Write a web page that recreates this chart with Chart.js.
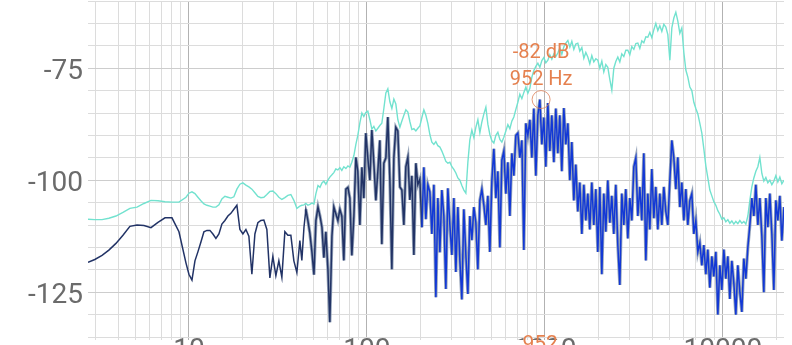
<!DOCTYPE html>
<html>
<head>
<meta charset="utf-8">
<script src="https://cdn.jsdelivr.net/npm/chart.js@4.4.1/dist/chart.umd.min.js"></script>
<style>
  html, body { margin: 0; padding: 0; background: #fff; overflow: hidden; }
  #wrap { width: 792px; height: 380px; }
</style>
</head>
<body>
<div id="wrap"><canvas id="spectrum" width="792" height="380"></canvas></div>
<script>
// frequency bins (Hz)
const freqs = [
  2.71, 2.96, 3.25, 3.55, 3.89, 4.26, 4.66, 5.11, 5.59, 6.12, 6.70, 7.34, 8.03, 8.79, 9.63,
  10.0, 10.4, 10.81, 11.23, 11.68, 12.14, 12.62, 13.12, 13.64, 14.18, 14.74, 15.32, 15.93, 16.56, 17.21,
  17.89, 18.6, 19.34, 20.1, 20.9, 21.72, 22.58, 23.48, 24.4, 25.37, 26.37, 27.41, 28.5, 29.62, 30.8,
  32.01, 33.28, 34.6, 35.97, 37.39, 38.87, 40.41, 42.01,
  43.1, 44.3, 45.4, 46.6, 47.8, 49.1, 50.4, 51.7, 53.1, 54.5,
  55.9, 57.3, 58.8, 60.4, 61.9, 63.6, 65.2, 66.9, 68.7, 70.5,
  72.3, 74.2, 76.2, 78.2, 80.2, 82.3, 84.5, 86.7, 88.9, 91.3,
  93.7, 96.1, 98.6, 101.2, 103.9, 106.6, 109.4, 112.3, 115.2, 118.2,
  121.3, 124.5, 127.8, 131.1, 134.6, 138.1, 141.7, 145.4, 149.2, 153.2,
  157.2, 161.3, 165.5, 169.9, 174.3, 178.9, 183.6, 188.4, 193.3, 198.4,
  203.6, 208.9, 214.4, 220.0, 225.8, 231.7, 237.8, 244.0, 250.4, 257.0,
  263.7, 270.6, 277.7, 285.0, 292.5, 300.1, 308.0, 316.1, 324.4, 332.9,
  341.6, 350.5, 359.7, 369.2, 378.8,
  388.8, 399.0, 409.4, 420.2, 431.2, 442.5, 454.1, 466.0, 478.2, 490.7,
  503.6, 516.8, 530.3, 544.2, 558.5, 573.1, 588.1, 603.5, 619.3, 635.6,
  652.2, 669.3, 686.9, 704.9, 723.3, 742.3, 761.8, 781.7, 802.2, 823.2,
  844.8, 866.9, 889.7, 913.0, 936.9, 961.4, 986.6, 1012, 1039, 1066,
  1094, 1123, 1152, 1182, 1213, 1245, 1278, 1311, 1346, 1381,
  1417, 1454, 1492, 1531, 1571, 1613, 1655, 1698, 1743, 1788,
  1835, 1883, 1933, 1983, 2035, 2089, 2143, 2199, 2257, 2316,
  2377, 2439, 2503, 2569, 2636, 2705, 2776, 2849, 2924, 3000,
  3079, 3160, 3243, 3328, 3415, 3504, 3596, 3691, 3787, 3887,
  3989, 4093, 4200, 4310, 4423, 4539, 4659, 4781, 4906, 5035,
  5167, 5302, 5441, 5584, 5730, 5880, 6035, 6193, 6355, 6522,
  6693, 6868, 7048, 7233, 7423,
  7617, 7817, 8022, 8232, 8448, 8670, 8897, 9130, 9369, 9615,
  9867, 10126, 10391, 10664, 10943, 11230, 11525, 11827, 12137, 12455,
  12782, 13117, 13461, 13814, 14176, 14548, 14929, 15320, 15722, 16134,
  16557, 16991, 17437, 17894, 18363, 18844, 19338, 19845, 20365, 20899,
  21447, 22050
];

// peak hold trace (dB)
const peakDb = [
  -108.7, -108.8, -108.8, -108.5, -108.0, -107.2, -106.3, -106.0, -105.2, -104.5, -104.6, -104.8, -104.9, -104.9, -103.8,
  -102.9, -102.6, -103.0, -103.8, -104.6, -105.3, -105.6, -105.8, -106.0, -106.0, -105.5, -104.2, -103.6, -103.8, -104.0,
  -103.7, -102.0, -100.9, -100.6, -101.1, -101.5, -102.0, -102.8, -103.6, -103.9, -103.8, -103.2, -102.5, -102.4, -103.0,
  -103.8, -104.3, -103.9, -103.4, -103.2, -104.5, -106.3, -105.8,
  -105.6, -105.5, -105.2, -105.6, -105.4, -105.1, -105.3, -103.0, -101.2, -101.6,
  -100.6, -100.2, -100.9, -100.0, -99.3, -98.8, -98.3, -97.5, -97.7, -97.2,
  -97.8, -97.0, -97.4, -96.8, -97.1, -96.0, -94.5, -92.0, -90.0, -87.2,
  -85.0, -85.8, -84.9, -84.6, -86.5, -88.6, -88.0, -89.0, -88.4, -87.8,
  -87.3, -84.0, -80.5, -79.6, -82.5, -84.0, -81.9, -83.0, -86.5, -88.2,
  -86.8, -85.5, -84.3, -84.8, -86.9, -88.7, -88.5, -89.0, -88.4, -87.9,
  -86.0, -84.3, -85.5, -87.3, -89.8, -91.5, -92.0, -91.4, -92.3, -92.6,
  -93.5, -94.6, -95.8, -96.2, -96.0, -97.0, -97.6, -98.4, -99.5, -100.0,
  -101.2, -102.2, -102.9, -96.0, -91.0,
  -88.8, -90.5, -88.2, -86.5, -89.4, -87.0, -85.2, -83.7, -87.5, -89.8,
  -91.2, -91.7, -90.0, -89.3, -90.9, -91.5, -90.4, -89.0, -87.6, -88.5,
  -86.8, -85.9, -84.2, -82.6, -80.8, -81.8, -80.4, -79.2, -80.6, -79.5,
  -77.0, -75.5, -74.6, -73.9, -74.8, -73.3, -72.6, -73.8, -73.2, -72.0,
  -73.0, -71.8, -72.4, -71.6, -70.5, -71.9, -70.2, -69.4, -68.8, -70.3,
  -69.0, -70.8, -69.6, -69.4, -71.2, -70.4, -72.8, -71.5, -72.5, -74.0,
  -72.2, -73.6, -72.9, -73.2, -75.0, -73.4, -75.8, -74.2, -74.8, -77.5,
  -79.9, -75.0, -73.5, -72.5, -73.6, -71.8, -72.4, -71.0, -71.0, -72.0,
  -70.2, -70.8, -69.5, -69.4, -70.6, -68.9, -69.3, -68.0, -68.1, -67.0,
  -68.2, -66.4, -65.0, -66.6, -65.5, -66.8, -65.2, -65.8, -67.5, -73.2,
  -66.0, -63.8, -62.5, -64.5, -67.2, -66.0, -71.5, -75.4, -77.0, -79.2,
  -80.0, -82.6, -84.0, -85.2, -87.3,
  -89.5, -93.0, -96.8, -99.5, -102.2, -103.5, -104.8, -105.6, -106.8, -107.6,
  -108.7, -108.4, -109.3, -108.8, -109.6, -109.1, -109.8, -109.2, -109.7, -109.0,
  -109.6, -109.2, -109.8, -108.0, -104.5, -101.5, -99.5, -98.0, -97.0, -94.9,
  -98.5, -100.2, -99.4, -100.6, -100.0, -101.0, -100.2, -99.0, -100.4, -99.3,
  -100.8, -100.0
];

// live spectrum (dB)
const liveDb = [
  -118.3, -117.7, -116.8, -115.6, -114.1, -112.3, -110.3, -110.0, -110.1, -110.6, -109.4, -108.4, -108.4, -111.5, -118.5,
  -121.0, -122.3, -118.0, -116.0, -113.8, -111.5, -111.2, -111.2, -112.0, -113.0, -112.0, -109.8, -109.0, -108.0, -107.4,
  -106.5, -105.6, -111.0, -112.0, -111.0, -112.5, -121.0, -112.0, -109.5, -109.0, -108.9, -111.0, -121.8, -117.0, -121.3,
  -118.0, -121.7, -111.5, -112.3, -112.3, -118.0, -120.6, -113.5,
  -117.9, -110.5, -106.5, -109.0, -111.8, -116.0, -121.1, -109.0, -106.0, -108.0,
  -110.5, -117.3, -111.5, -120.0, -131.7, -112.5, -106.0, -107.5, -109.0, -106.5,
  -108.0, -117.9, -102.0, -101.6, -104.0, -116.8, -108.0, -94.9, -98.0, -110.0,
  -97.1, -104.0, -89.5, -95.0, -100.0, -88.8, -96.2, -104.5, -98.0, -91.1,
  -114.3, -96.2, -95.0, -85.9, -100.0, -119.9, -95.0, -88.2, -89.0, -101.5,
  -102.2, -110.0, -97.0, -94.9, -104.4, -99.0, -116.7, -96.2, -101.0, -99.8,
  -110.5, -97.1, -108.7, -101.0, -102.6, -112.0, -101.0, -126.1, -104.0, -116.1,
  -102.2, -108.0, -124.3, -101.8, -110.0, -116.7, -104.0, -120.5, -106.0, -118.0,
  -126.6, -106.5, -116.7, -125.4, -108.0,
  -113.4, -106.0, -109.5, -119.9, -104.5, -102.0, -105.6, -110.0, -103.5, -116.0,
  -100.0, -93.0, -104.0, -98.0, -115.0, -95.5, -93.5, -103.0, -96.0, -108.0,
  -94.0, -99.0, -90.0, -89.5, -95.0, -91.1, -115.6, -87.3, -90.0, -86.5,
  -95.0, -84.0, -99.0, -85.5, -82.0, -92.0, -86.0, -97.0, -82.8, -93.5,
  -85.5, -96.0, -84.0, -94.0, -85.5, -98.0, -83.9, -92.0, -87.3, -100.0,
  -91.5, -104.5, -96.5, -107.0, -100.5, -112.0, -101.0, -109.0, -103.0, -111.0,
  -100.5, -110.0, -102.0, -116.0, -101.5, -121.0, -103.0, -111.5, -100.0, -109.5,
  -103.5, -112.0, -101.0, -114.5, -123.4, -103.0, -110.0, -102.0, -113.0, -104.0,
  -109.0, -97.0, -95.0, -108.0, -101.5, -109.0, -94.0, -117.9, -103.0, -111.0,
  -97.5, -108.5, -101.5, -111.0, -103.0, -110.0, -101.5, -107.0, -110.0, -100.0,
  -91.1, -95.0, -102.0, -94.9, -106.0, -100.5, -109.0, -102.0, -110.0, -104.5,
  -103.0, -112.0, -109.0, -116.0, -114.0,
  -119.0, -114.5, -121.0, -115.5, -124.0, -117.0, -121.5, -116.0, -130.0, -119.0,
  -124.5, -115.5, -122.0, -117.0, -126.5, -118.0, -123.0, -130.0, -119.0, -125.0,
  -129.4, -117.5, -122.0, -115.0, -110.0, -104.0, -108.0, -101.0, -110.0, -104.0,
  -112.5, -125.0, -104.0, -110.5, -103.0, -112.0, -124.5, -104.5, -109.0, -103.5,
  -113.5, -106.0
];

const freqTicks = [3, 4, 5, 6, 7, 8, 9,
  10, 20, 30, 40, 50, 60, 70, 80, 90,
  100, 200, 300, 400, 500, 600, 700, 800, 900,
  1000, 2000, 3000, 4000, 5000, 6000, 7000, 8000, 9000,
  10000, 20000];
const decades = [10, 100, 1000, 10000];
const freqLabels = { 10: '10', 100: '100', 1000: '1000', 10000: '10000' };
const dbLabels = [-75, -100, -125];
const marker = { freq: 952, db: -82 };

const ORANGE = '#e5814f';

const markerPlugin = {
  id: 'peakMarker',
  afterDraw(chart) {
    const { ctx, chartArea, scales } = chart;
    const px = scales.x.getPixelForValue(marker.freq);
    const py = scales.y.getPixelForValue(marker.db);
    ctx.save();
    ctx.strokeStyle = 'rgba(222,130,90,0.8)';
    ctx.lineWidth = 1;
    ctx.beginPath();
    ctx.arc(px, py, 9, 0, Math.PI * 2);
    ctx.stroke();
    ctx.font = '20px Roboto';
    ctx.textAlign = 'center';
    ctx.textBaseline = 'middle';
    ctx.fillStyle = ORANGE;
    ctx.fillText(marker.db + ' dB', px, py - 47);
    ctx.fillText(marker.freq + ' Hz', px, py - 20);
    // frequency label on the axis, over the 1000 tick label
    ctx.fillStyle = '#fff';
    ctx.fillRect(px - 32, chartArea.bottom + 3, 50, 40);
    ctx.fillStyle = ORANGE;
    ctx.font = '21px Roboto';
    ctx.fillText(String(marker.freq), px - 1, chartArea.bottom + 8);
    ctx.restore();
  }
};

const ctx = document.getElementById('spectrum').getContext('2d');
new Chart(ctx, {
  type: 'line',
  data: {
    datasets: [
      {
        label: 'live',
        data: freqs.map((f, i) => ({ x: f, y: liveDb[i] })),
        borderWidth: 1.5,
        segment: {
          borderColor: c => (c.p0.parsed.x < 200 ? '#223366' : '#1238d6')
        },
        pointRadius: 0,
        order: 0
      },
      {
        label: 'liveShade',
        data: freqs.map((f, i) => ({ x: f, y: liveDb[i] })),
        borderWidth: 3.2,
        segment: {
          borderColor: c => (c.p0.parsed.x < 45 ? 'rgba(0,0,0,0)' : 'rgba(140,155,178,0.9)')
        },
        pointRadius: 0,
        order: 1
      },
      {
        label: 'peak',
        data: freqs.map((f, i) => ({ x: f, y: peakDb[i] })),
        borderColor: '#72e2cf',
        borderWidth: 1.4,
        pointRadius: 0,
        order: 2
      }
    ]
  },
  options: {
    responsive: false,
    animation: false,
    layout: { padding: { top: 1, right: 8, left: 0, bottom: 0 } },
    plugins: { legend: { display: false }, tooltip: { enabled: false } },
    scales: {
      x: {
        type: 'logarithmic',
        min: 2.71,
        max: 22050,
        afterBuildTicks: s => { s.ticks = freqTicks.map(v => ({ value: v })); },
        afterFit: s => { s.height = 43; s.paddingLeft = 0; s.paddingRight = 0; },
        border: { display: false },
        grid: {
          color: c => (c.tick && decades.includes(c.tick.value) ? '#b2b2b2' : '#dcdcdc'),
          tickLength: 3
        },
        ticks: {
          autoSkip: false,
          maxRotation: 0,
          padding: -6,
          color: '#6b6b6b',
          font: { family: 'Roboto', size: 28 },
          callback: v => freqLabels[v] || ''
        }
      },
      y: {
        min: -135,
        max: -60,
        afterFit: s => { s.width = 88; s.paddingTop = 0; s.paddingBottom = 0; },
        border: { display: false },
        grid: {
          color: c => (c.tick && dbLabels.includes(c.tick.value) ? '#cdcdcd' : '#dcdcdc'),
          drawTicks: false
        },
        ticks: {
          stepSize: 5,
          autoSkip: false,
          padding: 5,
          labelOffset: 4,
          color: '#6b6b6b',
          font: { family: 'Roboto', size: 28 },
          callback: v => (dbLabels.includes(v) ? String(v) : '')
        }
      }
    }
  },
  plugins: [markerPlugin]
});
</script>
</body>
</html>
